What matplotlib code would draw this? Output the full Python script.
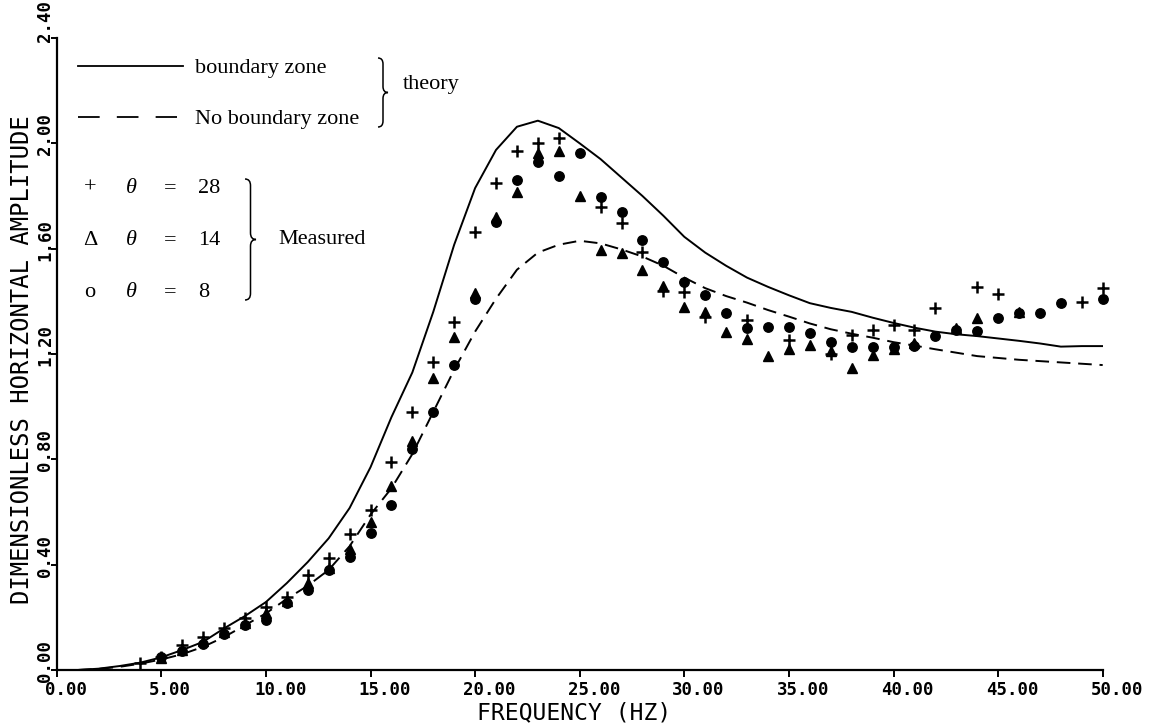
import matplotlib
matplotlib.use("Agg")
import matplotlib.pyplot as plt
import matplotlib.transforms as mtransforms
from matplotlib.path import Path
from matplotlib.patches import PathPatch
from matplotlib.lines import Line2D

# ---------------- data ----------------
theory_freq = list(range(0, 51))
boundary_zone = [0.0, 0.0, 0.005, 0.015, 0.028, 0.048, 0.076, 0.107, 0.158, 0.205,
                 0.258, 0.33, 0.41, 0.50, 0.615, 0.77, 0.96, 1.13, 1.36, 1.615,
                 1.83, 1.975, 2.063, 2.086, 2.058, 2.0, 1.94, 1.87, 1.80, 1.725,
                 1.645, 1.585, 1.535, 1.49, 1.455, 1.423, 1.393, 1.375, 1.36, 1.338,
                 1.318, 1.30, 1.285, 1.275, 1.268, 1.259, 1.25, 1.24, 1.228, 1.23,
                 1.23]
no_boundary_zone = [0.0, 0.0, 0.004, 0.012, 0.024, 0.04, 0.06, 0.088, 0.125, 0.17,
                    0.215, 0.27, 0.32, 0.38, 0.47, 0.59, 0.69, 0.82, 0.98, 1.14,
                    1.285, 1.41, 1.52, 1.585, 1.615, 1.63, 1.62, 1.597, 1.57, 1.535,
                    1.49, 1.45, 1.42, 1.395, 1.367, 1.342, 1.316, 1.294, 1.277, 1.262,
                    1.245, 1.232, 1.218, 1.205, 1.192, 1.185, 1.178, 1.173, 1.168, 1.163,
                    1.158]

freq_28 = [4, 5, 6, 7, 8, 9, 10, 11, 12, 13, 14, 15, 16, 17, 18, 19, 20, 21, 22, 23,
           24, 26, 27, 28, 29, 30, 31, 33, 35, 37, 38, 39, 40, 41, 42, 44, 45, 49, 50]
amp_28 = [0.028, 0.05, 0.095, 0.125, 0.16, 0.196, 0.24, 0.278, 0.361, 0.424,
          0.517, 0.608, 0.791, 0.981, 1.17, 1.32, 1.665, 1.848, 1.969, 2.0,
          2.019, 1.76, 1.699, 1.589, 1.44, 1.437, 1.34, 1.329, 1.253, 1.20,
          1.272, 1.291, 1.31, 1.29, 1.374, 1.456, 1.427, 1.396, 1.45]

freq_14 = [5, 6, 7, 8, 9, 10, 11, 12, 13, 14, 15, 16, 17, 18, 19, 20, 21, 22, 23, 24,
           25, 26, 27, 28, 29, 30, 31, 32, 33, 34, 35, 36, 37, 38, 39, 40, 41, 43, 44, 46]
amp_14 = [0.045, 0.075, 0.11, 0.145, 0.18, 0.215, 0.262, 0.33, 0.386, 0.46,
          0.563, 0.70, 0.87, 1.109, 1.265, 1.43, 1.72, 1.817, 1.965, 1.969,
          1.80, 1.595, 1.582, 1.519, 1.46, 1.38, 1.36, 1.285, 1.256, 1.193,
          1.218, 1.234, 1.21, 1.145, 1.196, 1.22, 1.24, 1.30, 1.335, 1.36]

freq_8 = [5, 6, 7, 8, 9, 10, 11, 12, 13, 14, 15, 16, 17, 18, 19, 20, 21, 22, 23, 24,
          25, 26, 27, 28, 29, 30, 31, 32, 33, 34, 35, 36, 37, 38, 39, 40, 41, 42, 43, 44,
          45, 46, 47, 48, 50]
amp_8 = [0.048, 0.073, 0.10, 0.135, 0.17, 0.19, 0.255, 0.304, 0.38, 0.43,
         0.519, 0.627, 0.84, 0.98, 1.158, 1.41, 1.70, 1.861, 1.93, 1.876,
         1.962, 1.797, 1.74, 1.633, 1.551, 1.475, 1.424, 1.355, 1.298, 1.304,
         1.304, 1.279, 1.247, 1.228, 1.228, 1.228, 1.23, 1.268, 1.29, 1.289,
         1.335, 1.355, 1.357, 1.392, 1.41]

x_ticks = [0, 5, 10, 15, 20, 25, 30, 35, 40, 45, 50]
y_ticks = [0.0, 0.4, 0.8, 1.2, 1.6, 2.0, 2.4]

# ---------------- figure ----------------
W, H = 1150, 724
fig = plt.figure(figsize=(W / 100, H / 100), dpi=100)
ax_l, ax_r, ax_t, ax_b = 56.7, 1102.7, 38.0, 670.0
ax = fig.add_axes([ax_l / W, (H - ax_b) / H, (ax_r - ax_l) / W, (ax_b - ax_t) / H])
ax.set_xlim(0, 50)
ax.set_ylim(0, 2.4)

for s in ("top", "right"):
    ax.spines[s].set_visible(False)
for s in ("left", "bottom"):
    ax.spines[s].set_linewidth(1.6)

ax.plot(theory_freq, boundary_zone, color="black", lw=1.4, solid_joinstyle="round")
ax.plot(theory_freq, no_boundary_zone, color="black", lw=1.4, dashes=(7, 4))

ax.plot(freq_28, amp_28, ls="none", marker="+", ms=9, mew=1.8, color="black", clip_on=False)
ax.plot(freq_14, amp_14, ls="none", marker="^", ms=7, color="black", clip_on=False)
ax.plot(freq_8, amp_8, ls="none", marker="o", ms=6.8, color="black", clip_on=False)

# ticks
ax.set_xticks(x_ticks)
ax.set_yticks(y_ticks)
ax.set_xticklabels([])
ax.set_yticklabels([])
ax.tick_params(axis="x", direction="out", length=5, width=1.4)
ax.tick_params(axis="y", direction="out", length=4, width=1.4)

tick_font = dict(family="DejaVu Sans Mono", weight="bold", size=12.5)
xtr = mtransforms.offset_copy(ax.get_xaxis_transform(), fig=fig, x=-12, y=-20, units="dots")
for v in x_ticks:
    ax.text(v, 0, f"{v:.2f}", transform=xtr, ha="left", va="center", **tick_font)
for v in y_ticks:
    dy = 16.5 if v == y_ticks[-1] else 9
    ytr = mtransforms.offset_copy(ax.get_yaxis_transform(), fig=fig, x=-11.7, y=dy, units="dots")
    ax.text(0, v, f"{v:.2f}", transform=ytr, rotation=90, ha="center", va="center", **tick_font)

fig.text(574 / W, 1 - 713 / H, "FREQUENCY (HZ)", ha="center", va="center",
         family="DejaVu Sans Mono", size=16.6)
fig.text(22 / W, 1 - 360 / H, "DIMENSIONLESS HORIZONTAL AMPLITUDE", rotation=90,
         ha="center", va="center", family="DejaVu Sans Mono", size=17.2)

# ---------------- legend (manual layout) ----------------
def fx(px):
    return px / W

def fy(py):
    return 1 - py / H

serif = dict(family="Liberation Serif", size=16)

fig.add_artist(Line2D([fx(78), fx(183)], [fy(66), fy(66)], color="black", lw=1.3))
fig.add_artist(Line2D([fx(78), fx(177)], [fy(117), fy(117)], color="black", lw=1.3,
                      dashes=(12, 9.5)))
fig.text(fx(195), fy(73), "boundary zone", ha="left", va="baseline", **serif)
fig.text(fx(195), fy(124), "No boundary zone", ha="left", va="baseline", **serif)
fig.text(fx(403), fy(89), "theory", ha="left", va="baseline", **serif)

rows = [("+", "28", 193), ("\u0394", "14", 245), ("o", "8", 297)]
for sym, val, base in rows:
    fig.text(fx(90), fy(base), sym, ha="center", va="baseline", **serif)
    fig.text(fx(131), fy(base), "\u03b8", ha="center", va="baseline", style="italic", **serif)
    fig.text(fx(170), fy(base), "=", ha="center", va="baseline", **serif)
    fig.text(fx(198), fy(base), val, ha="left", va="baseline", **serif)
fig.text(fx(278), fy(244), "Measured", ha="left", va="baseline", **serif)


def brace(x0, y_top, y_bot, width):
    ym = (y_top + y_bot) / 2
    xm = x0 + width / 2
    d = width * 0.6
    pts = [(x0, y_top), (xm, y_top), (xm, y_top + d),
           (xm, ym - d), (xm, ym), (x0 + width, ym),
           (xm, ym), (xm, ym + d),
           (xm, y_bot - d), (xm, y_bot), (x0, y_bot)]
    codes = [Path.MOVETO, Path.CURVE3, Path.CURVE3,
             Path.LINETO, Path.CURVE3, Path.CURVE3,
             Path.CURVE3, Path.CURVE3,
             Path.LINETO, Path.CURVE3, Path.CURVE3]
    verts = [(fx(x), fy(y)) for x, y in pts]
    fig.add_artist(PathPatch(Path(verts, codes), fill=False, lw=1.1, ec="black",
                             transform=fig.transFigure))

brace(378, 58, 127, 10)
brace(245, 179, 300, 11)

fig.savefig("out.png", dpi=100)
